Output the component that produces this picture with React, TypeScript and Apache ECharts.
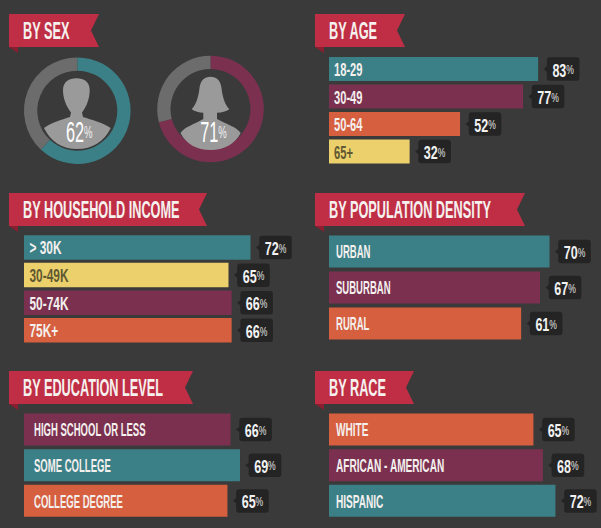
import React, { useEffect, useRef } from "react";
import * as echarts from "echarts";

const sexLabels = ["Men", "Women"];
const sexValues = [62, 71];

const ageCategories = ["18-29", "30-49", "50-64", "65+"];
const ageValues = [83, 77, 52, 32];

const incomeCategories = ["> 30K", "30-49K", "50-74K", "75K+"];
const incomeValues = [72, 65, 66, 66];

const densityCategories = ["URBAN", "SUBURBAN", "RURAL"];
const densityValues = [70, 67, 61];

const educationCategories = ["HIGH SCHOOL OR LESS", "SOME COLLEGE", "COLLEGE DEGREE"];
const educationValues = [66, 69, 65];

const raceCategories = ["WHITE", "AFRICAN - AMERICAN", "HISPANIC"];
const raceValues = [65, 68, 72];

const titles = ["BY SEX", "BY AGE", "BY HOUSEHOLD INCOME", "BY POPULATION DENSITY", "BY EDUCATION LEVEL", "BY RACE"];

const BG = "#3a3a3a";
const TEAL = "#3b8087";
const PLUM = "#7b3050";
const ORANGE = "#d65f3f";
const YELLOW = "#ecd06c";
const RED = "#bf2e45";
const FOLD = "#8a1f31";
const BOX = "#242424";
const FONT = "'Liberation Sans', sans-serif";

const panels = [
  { cats: ageCategories, vals: ageValues, colors: [TEAL, PLUM, ORANGE, YELLOW], left: 329, width: 252, max: 100, top: 55.2, height: 110, bar: 24, pad: 5, scale: 0.62 },
  { cats: incomeCategories, vals: incomeValues, colors: [TEAL, YELLOW, PLUM, ORANGE], left: 24, width: 314.6, max: 100, top: 233.7, height: 110.4, bar: 24.5, pad: 5.5, scale: 0.66 },
  { cats: densityCategories, vals: densityValues, colors: [TEAL, PLUM, ORANGE], left: 329, width: 252, max: 80, top: 233.5, height: 108, bar: 32, pad: 7, scale: 0.53 },
  { cats: educationCategories, vals: educationValues, colors: [PLUM, TEAL, ORANGE], left: 24, width: 313, max: 100, top: 411.7, height: 107, bar: 32, pad: 10, scale: 0.53 },
  { cats: raceCategories, vals: raceValues, colors: [ORANGE, PLUM, TEAL], left: 329, width: 251.6, max: 80, top: 411.7, height: 107, bar: 32, pad: 7, scale: 0.56 },
];

const ribbons = [
  { x: 9, y: 14, w: 90 },
  { x: 315, y: 14, w: 90 },
  { x: 9, y: 193, w: 198 },
  { x: 315, y: 193, w: 210 },
  { x: 9, y: 371, w: 184 },
  { x: 315, y: 371, w: 99 },
];

const donuts = [
  { cx: 77.3, cy: 110.7, color: TEAL },
  { cx: 210.5, cy: 109, color: PLUM },
];

const MALE =
  "M44,128 C52,122 61,120 70,117 L71,112.5 C66,106 63,98 63,90 C63,82 69,78.3 76.5,78.3 C84,78.3 89.7,82 89.7,90 C89.7,98 87,106 82,112.5 L83,117 C92,120 102,122 110.7,128 C104,142 92,149 77.3,149 C62,149 51,142 44,128 Z";
const FEMALE =
  "M180.5,133 C184,127 195,124 203.3,119 L203.3,112.7 C199,112.7 195,111.5 191.7,109.3 C197,103 198.5,96 199.5,88 C200.5,80 204.5,76.7 210.5,76.7 C216.5,76.7 220.5,80 221.5,88 C222.5,96 224,103 229.3,109.3 C226,111.5 222,112.7 217,112.7 L217,119 C226,124 237,127 240.7,133 C235,144 224,150 210.5,150 C197,150 186,144 180.5,133 Z";

export default function App() {
  const ref = useRef<HTMLDivElement>(null);
  useEffect(() => {
    if (!ref.current) return;
    echarts.graphic.registerShape("maleShape", echarts.graphic.extendPath(MALE, {}));
    echarts.graphic.registerShape("femaleShape", echarts.graphic.extendPath(FEMALE, {}));
    const chart = echarts.init(ref.current, undefined, { renderer: "svg" });

    const grid: any[] = [];
    const xAxis: any[] = [];
    const yAxis: any[] = [];
    const series: any[] = [];

    panels.forEach((p, i) => {
      grid.push({ left: p.left, top: p.top, width: p.width, height: p.height, containLabel: false });
      xAxis.push({ gridIndex: i, type: "value", min: 0, max: p.max, show: false });
      yAxis.push({
        gridIndex: i,
        type: "category",
        data: p.cats,
        inverse: true,
        axisLine: { show: false },
        axisTick: { show: false },
        splitLine: { show: false },
        axisLabel: { show: false },
      });
      series.push({
        type: "bar",
        xAxisIndex: i,
        yAxisIndex: i,
        barWidth: p.bar,
        data: p.vals.map((v, k) => ({ value: v, itemStyle: { color: p.colors[k] } })),
      });
      series.push({
        type: "custom",
        xAxisIndex: i,
        yAxisIndex: i,
        silent: true,
        z: 5,
        clip: false,
        encode: { x: 0, y: 1 },
        data: p.vals.map((v, k) => [v, k]),
        renderItem: (params: any, api: any) => {
          const k = params.dataIndex;
          const end = api.coord([api.value(0), k]);
          const start = api.coord([0, k]);
          const bx = end[0] + 8.7;
          const cy = end[1];
          return {
            type: "group",
            children: [
              {
                type: "polygon",
                shape: { points: [[end[0] + 5.5, cy], [bx + 0.5, cy - 3], [bx + 0.5, cy + 3]] },
                style: { fill: BOX },
              },
              {
                type: "rect",
                shape: { x: bx, y: cy - 11.7, width: 32.6, height: 23.5, r: 3 },
                style: { fill: BOX },
              },
              {
                type: "text",
                x: bx + 16.3,
                y: cy + 0.5,
                scaleX: 0.66,
                style: {
                  text: `{v|${p.vals[k]}}{p|%}`,
                  align: "center",
                  verticalAlign: "middle",
                  rich: {
                    v: { fontFamily: FONT, fontSize: 19, fontWeight: "bold", fill: "#f2f2f2" },
                    p: { fontFamily: FONT, fontSize: 13, fill: "#e4e4e4" },
                  },
                },
              },
              {
                type: "text",
                x: start[0] + p.pad,
                y: cy + 0.5,
                scaleX: p.scale,
                style: {
                  text: p.cats[k],
                  align: "left",
                  verticalAlign: "middle",
                  fontFamily: FONT,
                  fontSize: 18,
                  fontWeight: "bold",
                  fill: p.colors[k] === YELLOW ? "#5f5830" : "#f4f0ee",
                },
              },
            ],
          };
        },
      });
    });

    donuts.forEach((d, i) => {
      series.push({
        type: "pie",
        name: sexLabels[i],
        center: [d.cx, d.cy],
        radius: [40, 53.3],
        startAngle: 90,
        clockwise: true,
        silent: true,
        label: { show: false },
        labelLine: { show: false },
        data: [
          { value: sexValues[i], itemStyle: { color: d.color } },
          { value: 100 - sexValues[i], itemStyle: { color: "#6c6c6c" } },
        ],
      });
    });

    const graphic: any[] = [];
    ribbons.forEach((r, i) => {
      const right = r.x + r.w;
      graphic.push({
        type: "polygon",
        shape: { points: [[r.x, r.y + 33], [r.x + 9, r.y + 33], [r.x + 9, r.y + 39]] },
        style: { fill: FOLD },
      });
      graphic.push({
        type: "polygon",
        shape: { points: [[r.x, r.y], [right, r.y], [right - 8, r.y + 16.5], [right, r.y + 33], [r.x, r.y + 33]] },
        style: { fill: RED },
      });
      graphic.push({
        type: "text",
        x: r.x + 14,
        y: r.y + 17,
        scaleX: 0.53,
        style: { text: titles[i], fontFamily: FONT, fontSize: 24, fontWeight: "bold", fill: "#f6f1ee", verticalAlign: "middle", align: "left" },
      });
    });
    graphic.push({ type: "maleShape", style: { fill: "#9a9a9a" }, z: 10 });
    graphic.push({ type: "femaleShape", style: { fill: "#9a9a9a" }, z: 10 });
    donuts.forEach((d, i) => {
      graphic.push({
        type: "text",
        x: d.cx + (i === 0 ? 2 : 3),
        y: 132,
        z: 11,
        scaleX: 0.56,
        style: {
          text: `{v|${sexValues[i]}}{p|%}`,
          align: "center",
          verticalAlign: "middle",
          rich: {
            v: { fontFamily: FONT, fontSize: 29, fill: "#ffffff" },
            p: { fontFamily: FONT, fontSize: 17, fill: "#f0f0f0" },
          },
        },
      });
    });

    chart.setOption({
      animation: false,
      backgroundColor: BG,
      grid,
      xAxis,
      yAxis,
      series,
      graphic,
    });
    return () => chart.dispose();
  }, []);
  return <div ref={ref} style={{ position: "absolute", left: 0, top: 0, width: 601, height: 528 }} />;
}
